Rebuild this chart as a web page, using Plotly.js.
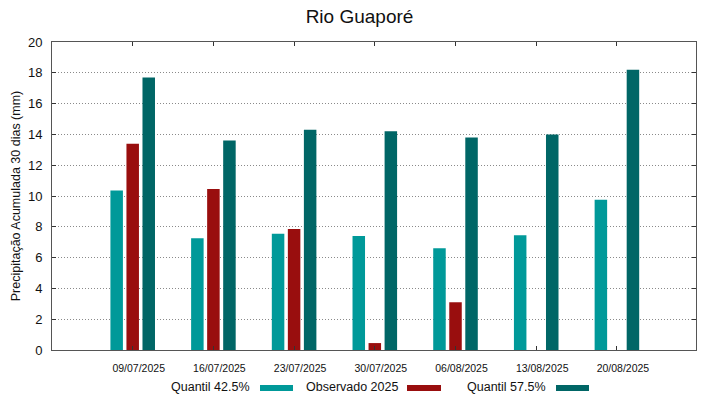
<!DOCTYPE html>
<html>
<head>
<meta charset="utf-8">
<script src="https://cdn.plot.ly/plotly-3.0.1.min.js"></script>
<style>html,body{margin:0;padding:0;background:#fff}#chart{width:719px;height:399px}</style>
</head>
<body>
<div id="chart"></div>
<script>
const dates = ["09/07/2025","16/07/2025","23/07/2025","30/07/2025","06/08/2025","13/08/2025","20/08/2025"];
const quantil425 = [10.35, 7.25, 7.55, 7.4, 6.6, 7.45, 9.75];
const observado2025 = [13.4, 10.45, 7.85, 0.45, 3.1, null, null];
const quantil575 = [17.7, 13.6, 14.3, 14.2, 13.8, 14.0, 18.2];
const seriesNames = ["Quantil 42.5%", "Observado 2025", "Quantil 57.5%"];
const colors = ["#009999", "#990e0e", "#006666"];

const font = "Liberation Sans, Arial, sans-serif";
const values = [quantil425, observado2025, quantil575];
const traces = values.map((v, i) => ({
  type: "bar", x: dates, y: v, name: seriesNames[i],
  marker: {color: colors[i]}, showlegend: false, hoverinfo: "x+y"
}));

// manual legend (text then swatch), like the reference
const legendItems = [
  {textRight: 252, sw: [260, 293]},
  {textRight: 400, sw: [407, 441]},
  {textRight: 548, sw: [556, 589]}
];
const W = 719, H = 399, ml = 52, mr = 23, mt = 42, mb = 49;
const pw = W - ml - mr, ph = H - mt - mb;
const px = x => (x - ml) / pw;
const py = y => (H - mb - y) / ph;
const annotations = legendItems.map((it, i) => ({
  xref: "paper", yref: "paper", x: px(it.textRight), y: py(387), xanchor: "right", yanchor: "middle",
  text: seriesNames[i], showarrow: false, font: {family: font, size: 12.5, color: "#111"}
}));
const shapes = legendItems.map((it, i) => ({
  type: "rect", xref: "paper", yref: "paper", x0: px(it.sw[0]), x1: px(it.sw[1]),
  y0: py(391), y1: py(385), fillcolor: colors[i], line: {width: 0}
}));

const layout = {
  width: W, height: H,
  margin: {l: ml, r: mr, t: mt, b: mb, pad: 0},
  paper_bgcolor: "#fff", plot_bgcolor: "#fff",
  font: {family: font, color: "#111"},
  title: {text: "Rio Guaporé", font: {family: font, size: 19, color: "#111"}, x: 0.5, xanchor: "center", y: 0.96, yanchor: "middle"},
  barmode: "group", bargap: 0.404, bargroupgap: 0.22,
  xaxis: {
    type: "category", range: [-1, 6.98], showgrid: false,
    ticks: "inside", ticklen: 4, tickcolor: "#333", mirror: "ticks",
    showline: true, linecolor: "#555", linewidth: 1,
    tickfont: {family: font, size: 10.5, color: "#111"},
    ticklabelshift: 6, ticklabelstandoff: 8, fixedrange: true
  },
  yaxis: {
    range: [0, 20], dtick: 2, tick0: 0,
    showgrid: true, gridcolor: "#8a8a8a", griddash: "1px,2px", gridwidth: 1,
    ticks: "inside", ticklen: 4, tickcolor: "#333", mirror: "ticks",
    showline: true, linecolor: "#555", linewidth: 1, zeroline: false,
    tickfont: {family: font, size: 13, color: "#111"}, ticklabelstandoff: 6,
    title: {text: "Precipitação Acumulada 30 dias (mm)", font: {family: font, size: 12.5, color: "#111"}, standoff: 4},
    fixedrange: true
  },
  annotations: annotations,
  shapes: shapes
};
Plotly.newPlot("chart", traces, layout, {displayModeBar: false, staticPlot: true});
</script>
</body>
</html>
